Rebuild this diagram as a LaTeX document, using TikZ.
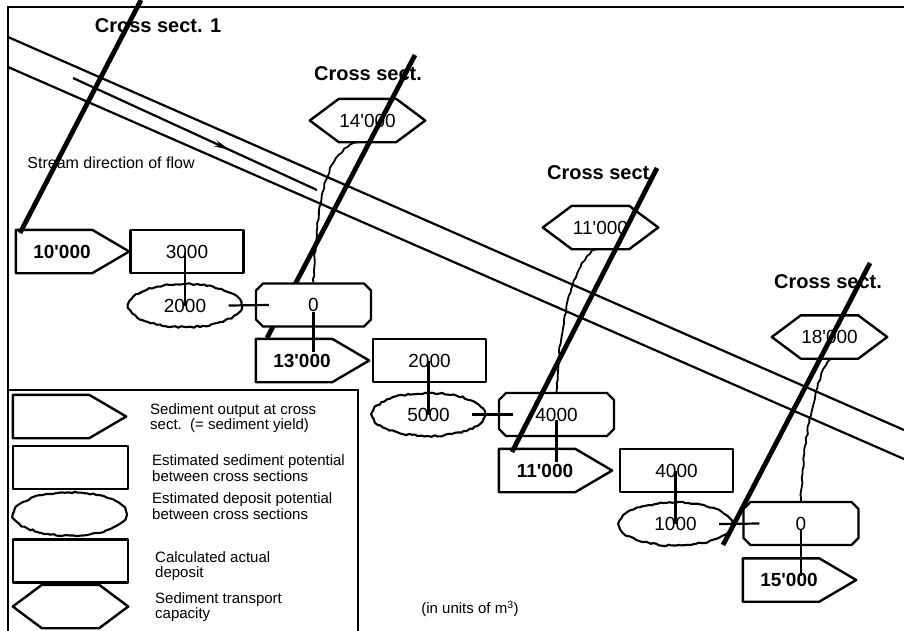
\documentclass[tikz,border=0pt]{standalone}
\usepackage{fontspec}
\setmainfont{Liberation Sans}
\usetikzlibrary{arrows.meta,shapes.geometric,shapes.misc,decorations.pathmorphing,decorations.markings}
\newcommand{\numfont}{\fontsize{19}{21}\selectfont}
\newcommand{\sectfont}{\fontsize{20}{22}\selectfont\bfseries}
\newcommand{\keyfont}{\fontsize{15}{15.5}\selectfont}
\newcommand{\ap}{\textquotesingle}
\tikzset{
  outline/.style={line width=2.4pt,line join=round},
  frameline/.style={line width=2.3pt},
  bank/.style={line width=2.2pt},
  sectline/.style={line width=4.8pt},
  sectlabel/.style={font=\sectfont},
  link/.style={line width=2.2pt},
  wavy/.style={line width=1.8pt,decorate,decoration={random steps,segment length=4pt,amplitude=0.8pt}},
  flow/.style={line width=2.2pt,postaction={decorate,decoration={markings,mark=at position 0.64 with {\arrow{Stealth[length=15pt,width=6.5pt]}}}}},
  yieldbox/.style={minimum width=92pt,minimum height=43pt,inner sep=0pt,font=\numfont\bfseries,
    append after command={\pgfextra{\draw[outline]
      (\tikzlastnode.north west) -- ([xshift=-16pt]\tikzlastnode.north east)
      -- ([xshift=21pt]\tikzlastnode.east) -- ([xshift=-16pt]\tikzlastnode.south east)
      -- (\tikzlastnode.south west) -- cycle;}}},
  potbox/.style={draw,outline,rectangle,minimum width=113pt,minimum height=43pt,inner sep=0pt,font=\numfont},
  dpotbox/.style={draw,outline,line width=2.1pt,ellipse,minimum width=113pt,minimum height=43pt,inner sep=0pt,font=\numfont,
    decorate,decoration={random steps,segment length=3pt,amplitude=0.9pt}},
  depbox/.style={draw,outline,fill=white,chamfered rectangle,chamfered rectangle xsep=3.5pt,chamfered rectangle ysep=3.5pt,
    minimum width=115pt,minimum height=43pt,inner sep=0pt,font=\numfont},
  capbox/.style={minimum width=115pt,minimum height=43pt,inner sep=0pt,font=\numfont,
    append after command={\pgfextra{\draw[outline]
      ([xshift=29pt]\tikzlastnode.north west) -- ([xshift=-29pt]\tikzlastnode.north east)
      -- (\tikzlastnode.east) -- ([xshift=-29pt]\tikzlastnode.south east)
      -- ([xshift=29pt]\tikzlastnode.south west) -- (\tikzlastnode.west) -- cycle;}}},
  keytext/.style={anchor=west,align=left,font=\keyfont,inner sep=0pt},
}
\begin{document}
\begin{tikzpicture}[x=1pt,y=-1pt]
\useasboundingbox (0,0) rectangle (904,630);
\pgfmathsetseed{11}
\draw[frameline] (904,7) -- (8,7) -- (8,632);
\draw[bank] (8,37) -- (904,430);
\draw[bank] (8,67) -- (904,459);
\coordinate (flowa) at (73,78);
\coordinate (flowb) at (317,190);
\draw[flow] (flowa) -- (flowb);
\node[font=\fontsize{16}{18}\selectfont] (flowtxt) at (111,163) {Stream direction of flow};
\draw[sectline] (415,55) -- (267,338);

\node[sectlabel] (cs1) at (158,26) {Cross sect. 1};
\node[sectlabel] (cs2) at (368,74) {Cross sect.};
\node[sectlabel] (cs3) at (601,173) {Cross sect.};
\node[sectlabel] (cs4) at (828,282) {Cross sect.};

\node[yieldbox] (yld1) at (62,251.5) {10\ap000};
\node[potbox] (pot1) at (187,251.5) {3000};
\node[dpotbox] (dpot1) at (185,305.5) {2000};
\node[depbox] (dep1) at (313.5,305) {0};
\node[capbox] (cap2) at (367.5,120.5) {14\ap000};
\node[yieldbox] (yld2) at (302,360.5) {13\ap000};
\node[potbox] (pot2) at (429.5,360.5) {2000};
\node[dpotbox] (dpot2) at (428.5,414.5) {5000};
\node[depbox] (dep2) at (556.5,414.5) {4000};
\node[capbox] (cap3) at (600.5,227.5) {11\ap000};
\node[yieldbox] (yld3) at (545,470.5) {11\ap000};
\node[potbox] (pot3) at (676.5,470.5) {4000};
\node[dpotbox] (dpot3) at (675.5,524) {1000};
\node[depbox] (dep3) at (801,523.5) {0};
\node[capbox] (cap4) at (829.5,337) {18\ap000};
\node[yieldbox] (yld4) at (789,580) {15\ap000};

\draw[link] (dpot1.center |- pot1.center) -- (dpot1.center);
\draw[link] (dpot2.center |- pot2.center) -- (dpot2.center);
\draw[link] (dpot3.center |- pot3.center) -- (dpot3.center);
\draw[link] ([xshift=-14pt]dpot1.east) -- ([xshift=14pt]dep1.west);
\draw[link] ([xshift=-14pt]dpot2.east) -- ([xshift=15pt]dep2.west);
\draw[link] ([xshift=-14pt]dpot3.east) -- ([xshift=17pt]dep3.west);
\draw[link] ([yshift=-7pt]dep1.center) -- ([yshift=9pt]dep1.center |- yld2.center);
\draw[link] ([yshift=-5pt]dep2.center) -- ([yshift=9pt]dep2.center |- yld3.center);
\draw[link] ([yshift=-6pt]dep3.center) -- ([yshift=4pt]dep3.center |- yld4.center);
\draw[wavy] ([xshift=-9pt]cap2.south) .. controls +(-28,8) and +(3,-98) .. (dep1.north);
\draw[wavy] ([xshift=-4pt]cap3.south) .. controls +(-20,8) and +(3,-80) .. (dep2.north);
\draw[wavy] ([xshift=1pt]cap4.south) .. controls +(-12,12) and +(2,-70) .. (dep3.north);

\draw[sectline] (141,0) -- (20,233);
\draw[sectline] (657,168) -- (512,452);
\draw[sectline] (870,263) -- (723,545);

\draw[frameline] (8,390) -- (358,390) -- (358,632);
\node[yieldbox] (lg1) at (59,416.5) {};
\node[potbox,minimum width=115pt] (lg2) at (70.5,467.5) {};
\node[dpotbox,minimum width=114pt] (lg3) at (70,514) {};
\node[depbox] (lg4) at (70.5,561) {};
\node[capbox] (lg5) at (70.5,606.5) {};
\node[keytext] (lgt1) at (150,418) {Sediment output at cross\\sect.\ \ (= sediment yield)};
\node[keytext] (lgt2) at (152,468) {Estimated sediment potential\\between cross sections};
\node[keytext] (lgt3) at (152,506) {Estimated deposit potential\\between cross sections};
\node[keytext] (lgt4) at (155,566) {Calculated actual\\deposit};
\node[keytext] (lgt5) at (155,607) {Sediment transport\\capacity};
\node[font=\keyfont] (unit) at (470,609) {(in units of m\textsuperscript{3})};
\end{tikzpicture}
\end{document}
